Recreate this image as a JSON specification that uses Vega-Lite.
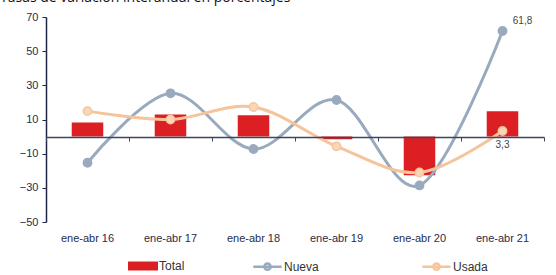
{
  "$schema": "https://vega.github.io/schema/vega-lite/v6.json",
  "autosize": {"type": "none"},
  "width": 498,
  "height": 205,
  "padding": {"left": 46, "top": 17, "right": 12, "bottom": 53},
  "background": "#ffffff",
  "title": {
    "text": "Tasas de variación interanual en porcentajes",
    "anchor": "start",
    "frame": "group",
    "dx": -46,
    "offset": -5,
    "baseline": "alphabetic",
    "font": "Open Sans",
    "fontSize": 14,
    "fontWeight": "normal",
    "color": "#111111"
  },
  "config": {
    "view": {"stroke": null},
    "font": "Liberation Sans"
  },
  "data": {
    "values": [
      {"periodo": "ene-abr 16", "serie": "Total", "valor": 8.2, "etiqueta": ""},
      {"periodo": "ene-abr 17", "serie": "Total", "valor": 13.0, "etiqueta": ""},
      {"periodo": "ene-abr 18", "serie": "Total", "valor": 12.5, "etiqueta": ""},
      {"periodo": "ene-abr 19", "serie": "Total", "valor": -1.5, "etiqueta": ""},
      {"periodo": "ene-abr 20", "serie": "Total", "valor": -22.7, "etiqueta": ""},
      {"periodo": "ene-abr 21", "serie": "Total", "valor": 14.9, "etiqueta": ""},
      {"periodo": "ene-abr 16", "serie": "Nueva", "valor": -15.3, "etiqueta": ""},
      {"periodo": "ene-abr 17", "serie": "Nueva", "valor": 25.3, "etiqueta": ""},
      {"periodo": "ene-abr 18", "serie": "Nueva", "valor": -7.3, "etiqueta": ""},
      {"periodo": "ene-abr 19", "serie": "Nueva", "valor": 21.4, "etiqueta": ""},
      {"periodo": "ene-abr 20", "serie": "Nueva", "valor": -28.6, "etiqueta": ""},
      {"periodo": "ene-abr 21", "serie": "Nueva", "valor": 61.8, "etiqueta": "61,8"},
      {"periodo": "ene-abr 16", "serie": "Usada", "valor": 14.9, "etiqueta": ""},
      {"periodo": "ene-abr 17", "serie": "Usada", "valor": 10.0, "etiqueta": ""},
      {"periodo": "ene-abr 18", "serie": "Usada", "valor": 17.3, "etiqueta": ""},
      {"periodo": "ene-abr 19", "serie": "Usada", "valor": -5.7, "etiqueta": ""},
      {"periodo": "ene-abr 20", "serie": "Usada", "valor": -21.0, "etiqueta": ""},
      {"periodo": "ene-abr 21", "serie": "Usada", "valor": 3.3, "etiqueta": "3,3"}
    ]
  },
  "encoding": {
    "x": {
      "field": "periodo",
      "type": "nominal",
      "sort": null,
      "axis": null,
      "scale": {"paddingInner": 0, "paddingOuter": 0}
    },
    "y": {
      "field": "valor",
      "type": "quantitative",
      "scale": {"domain": [-50, 70], "nice": false, "zero": false},
      "axis": {
        "title": null,
        "values": [-50, -30, -10, 10, 30, 50, 70],
        "grid": false,
        "domainColor": "#1e2546",
        "domainWidth": 1.5,
        "tickColor": "#1e2546",
        "tickSize": 4,
        "labelColor": "#2a2c48",
        "labelFontSize": 11,
        "labelPadding": 4
      }
    }
  },
  "layer": [
    {
      "transform": [{"filter": "datum.serie == 'Total'"}],
      "mark": {"type": "bar", "width": {"band": 0.38}},
      "encoding": {
        "x": {
          "field": "periodo",
          "type": "nominal",
          "sort": null,
          "axis": {
            "title": null,
            "orient": "bottom",
            "domain": false,
            "ticks": false,
            "labelAngle": 0,
            "labelColor": "#2a2c48",
            "labelFontSize": 11,
            "labelPadding": 10
          }
        },
        "fill": {
          "field": "serie",
          "type": "nominal",
          "scale": {"domain": ["Total"], "range": ["#dc1f22"]},
          "legend": {
            "title": null,
            "orient": "none",
            "legendX": 82,
            "legendY": 234,
            "symbolType": "M-1,-0.3H1V0.3H-1Z",
            "symbolSize": 900,
            "symbolStrokeWidth": 0,
            "labelFontSize": 12,
            "labelColor": "#333333",
            "labelOffset": 1
          }
        }
      }
    },
    {
      "transform": [{"filter": "datum.serie != 'Total'"}],
      "mark": {"type": "line", "interpolate": "cardinal", "strokeWidth": 3},
      "encoding": {
        "x": {
          "field": "periodo",
          "type": "nominal",
          "sort": null,
          "axis": {
            "title": null,
            "orient": "bottom",
            "offset": -85,
            "labels": false,
            "domain": true,
            "domainColor": "#3c4660",
            "domainWidth": 1.5,
            "ticks": true,
            "tickBand": "extent",
            "tickSize": 4,
            "tickColor": "#3c4660",
            "zindex": 1
          }
        },
        "stroke": {
          "field": "serie",
          "type": "nominal",
          "scale": {"domain": ["Nueva", "Usada"], "range": ["#9aaabe", "#f6c49a"]},
          "legend": {
            "title": null,
            "orient": "none",
            "direction": "horizontal",
            "legendX": 206,
            "legendY": 234,
            "symbolType": "M-1,0H1M0.22,0A0.22,0.22 0 1 1 -0.22,0A0.22,0.22 0 1 1 0.22,0",
            "symbolSize": 800,
            "symbolStrokeWidth": 2.5,
            "columnPadding": 98,
            "labelFontSize": 12,
            "labelColor": "#333333",
            "labelOffset": 1
          }
        }
      }
    },
    {
      "transform": [{"filter": "datum.serie != 'Total'"}],
      "mark": {"type": "point", "filled": true, "size": 70, "strokeWidth": 1.5, "opacity": 1},
      "encoding": {
        "fill": {
          "condition": {"test": "datum.serie == 'Nueva'", "value": "#9aaabe"},
          "value": "#f9d6b8"
        },
        "stroke": {"field": "serie", "type": "nominal", "legend": null}
      }
    },
    {
      "transform": [{"filter": "datum.serie == 'Nueva' && datum.etiqueta != ''"}],
      "mark": {"type": "text", "fontSize": 10, "color": "#444444", "dx": 20, "dy": -10},
      "encoding": {
        "text": {"field": "etiqueta"}
      }
    },
    {
      "transform": [{"filter": "datum.serie == 'Usada' && datum.etiqueta != ''"}],
      "mark": {"type": "text", "fontSize": 10, "color": "#444444", "dx": 0, "dy": 14},
      "encoding": {
        "text": {"field": "etiqueta"}
      }
    }
  ],
  "resolve": {"axis": {"x": "independent"}}
}
